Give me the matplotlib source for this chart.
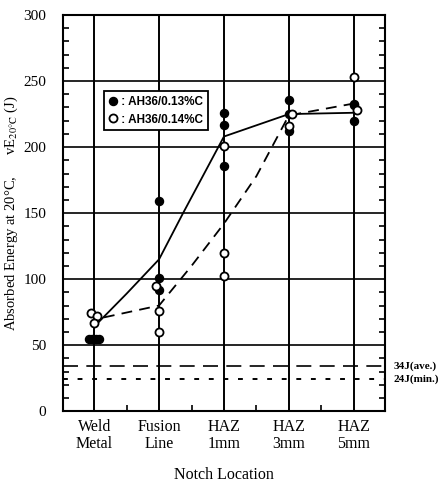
import numpy as np
import matplotlib.pyplot as plt
from matplotlib.ticker import MultipleLocator, FixedLocator

plt.rcParams['font.family'] = ['Liberation Serif', 'DejaVu Serif']
plt.rcParams['mathtext.fontset'] = 'stix'

# notch locations
cats = ["Weld\nMetal", "Fusion\nLine", "HAZ\n1mm", "HAZ\n3mm", "HAZ\n5mm"]

# AH36/0.13%C (filled)
x13 = [-0.08, -0.03, 0.03, 0.08, 1, 1, 1, 2, 2, 2, 3, 3, 3, 4, 4, 4]
y13 = [55, 55, 55, 55, 159, 101, 92, 226, 217, 186, 236, 225, 212, 233, 232, 220]

# AH36/0.14%C (open)
x14 = [-0.05, 0.05, 0, 0.95, 1, 1, 2, 2, 2, 3.05, 3, 4, 4.05]
y14 = [74, 72, 67, 95, 76, 60, 201, 120, 102, 225, 216, 253, 228]

# trend curves
sol_x = [0, 0.5, 1, 1.37, 2, 3, 4]
sol_y = [64, 89, 115, 150, 208, 225, 226]
dash_x = [0.15, 1, 1.5, 2, 2.5, 3, 4]
dash_y = [71, 80, 110, 142, 178, 224, 233]

fig = plt.figure(figsize=(4.47, 4.86), dpi=100)
ax = fig.add_axes([0.141, 0.154, 0.72, 0.815])

ax.set_xlim(-0.48, 4.48)
ax.set_ylim(0, 300)

for xc in range(len(cats)):
    ax.axvline(xc, color='black', lw=1.4, zorder=1)
for yv in [50, 100, 150, 200, 250]:
    ax.axhline(yv, color='black', lw=1.2, zorder=1)

ax.axhline(34, color='black', lw=1.2, ls=(0, (9, 5)), zorder=1)
ax.axhline(24, color='black', lw=1.4, ls=(0, (2.5, 5)), zorder=1)

ax.plot(sol_x, sol_y, color='black', lw=1.3, zorder=2)
ax.plot(dash_x, dash_y, color='black', lw=1.3, ls=(0, (6, 4)), zorder=2)

ax.plot(x13, y13, 'o', ms=5.8, mfc='black', mec='black', ls='none', zorder=3)
ax.plot(x14, y14, 'o', ms=5.8, mfc='white', mec='black', mew=1.3, ls='none', zorder=4)

ax.set_xticks(range(len(cats)))
ax.set_xticklabels(cats, fontsize=11.5, linespacing=1.05)
ax.xaxis.set_minor_locator(FixedLocator([0.5, 1.5, 2.5, 3.5]))
ax.tick_params(axis='x', which='major', length=0, pad=6)
ax.tick_params(axis='x', which='minor', direction='in', length=4, width=1.2,
               bottom=True, top=False)

ax.yaxis.set_major_locator(MultipleLocator(50))
ax.yaxis.set_minor_locator(MultipleLocator(10))
ax.tick_params(axis='y', which='major', length=0, labelsize=11, pad=12)
ax.tick_params(axis='y', which='minor', direction='in', length=4, width=1.2,
               left=True, right=True)

for s in ax.spines.values():
    s.set_linewidth(1.5)

ax.set_xlabel("Notch Location", fontsize=11.5, labelpad=11)
ax.set_ylabel("Absorbed Energy at 20°C,      vE$_{\\mathrm{20°C}}$ (J)", fontsize=10.5)
ax.yaxis.set_label_coords(-0.135, 0.5)

ax.text(4.62, 34, "34J(ave.)", fontsize=8, fontweight='bold', va='center',
        ha='left', clip_on=False)
ax.text(4.62, 24, "24J(min.)", fontsize=8, fontweight='bold', va='center',
        ha='left', clip_on=False)

# legend box
leg_font = ['Liberation Sans Narrow', 'Liberation Sans', 'DejaVu Sans']
ax.plot([], [], 'o', ms=5.8, mfc='black', mec='black', ls='none', label=" : AH36/0.13%C")
ax.plot([], [], 'o', ms=5.8, mfc='white', mec='black', mew=1.3, ls='none', label=" : AH36/0.14%C")
leg = ax.legend(loc='upper left', bbox_to_anchor=(0.11, 0.822), frameon=True,
                fancybox=False, edgecolor='black', handlelength=0.6,
                handletextpad=0.2, borderpad=0.4, labelspacing=0.45,
                prop={'family': leg_font, 'size': 8.5, 'weight': 'bold'})
leg.get_frame().set_linewidth(1.3)
leg.get_frame().set_alpha(1)
leg.set_zorder(5)

fig.savefig("out.png", dpi=100)
